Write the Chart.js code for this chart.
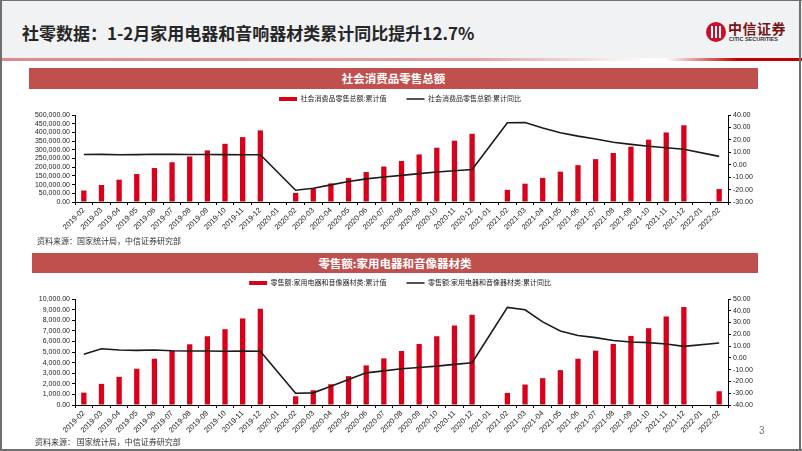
<!DOCTYPE html>
<html>
<head>
<meta charset="utf-8">
<script src="https://cdn.jsdelivr.net/npm/chart.js@4.4.1/dist/chart.umd.min.js"></script>
<style>
body { margin:0; width:802px; height:451px; position:relative; overflow:hidden; background:#fff; font-family:'Noto Sans CJK SC', sans-serif; }
.abs { position:absolute; }
#header { left:0; top:0; width:802px; height:58px; background:#f1f2f4; }
#rule { left:0; top:58px; width:802px; height:3px; background:linear-gradient(to right, #d98a8e 0%, #e2a3a6 60%, #ffffff 81%, #ffffff 83%, #c00000 92%, #c00000 100%); }
#title { left:22px; top:21px; font-size:17px; font-weight:bold; color:#262626; line-height:24px; white-space:nowrap; }
#logoMark { left:706px; top:22px; width:20px; height:20px; border-radius:50%; background:#c8102e; }
#logoMark div { position:absolute; top:4px; width:2px; height:12px; background:#fff; }
#logoCn { left:728px; top:19px; font-size:14px; font-weight:bold; color:#7a1414; line-height:18px; white-space:nowrap; letter-spacing:0.5px; }
#logoEn { left:729px; top:36px; font-family:'Liberation Sans', sans-serif; font-size:5.5px; font-weight:bold; color:#333; white-space:nowrap; }
.banner { height:21px; background:#c0504d; color:#fff; font-weight:bold; font-size:11.5px; line-height:21px; text-align:center; }
.source { font-size:8px; color:#333; white-space:nowrap; line-height:10px; }
#page { left:759px; top:425px; font-family:'Liberation Sans', sans-serif; font-size:10px; color:#777; }
.edge { background:#6f6f6f; }
canvas { position:absolute; left:0; }
</style>
</head>
<body>
<div id="header" class="abs"></div>
<div id="rule" class="abs"></div>
<div id="title" class="abs">社零数据：1-2月家用电器和音响器材类累计同比提升12.7%</div>
<div id="logoMark" class="abs"><div style="left:5px"></div><div style="left:9px"></div><div style="left:13px"></div></div>
<div id="logoCn" class="abs">中信证券</div>
<div id="logoEn" class="abs">CITIC SECURITIES</div>

<div class="abs banner" style="left:29px; top:68px; width:729px;">社会消费品零售总额</div>
<canvas id="chart1" width="800" height="147" style="top:89px"></canvas>
<div class="abs source" style="left:37px; top:236px;">资料来源：国家统计局，中信证券研究部</div>

<div class="abs banner" style="left:32px; top:253px; width:726px; height:20px; line-height:20px;">零售额:家用电器和音像器材类</div>
<canvas id="chart2" width="800" height="166" style="top:273px"></canvas>
<div class="abs source" style="left:35px; top:437px;">资料来源：&nbsp;国家统计局，中信证券研究部</div>

<div id="page" class="abs">3</div>
<div class="abs edge" style="left:0; top:0; width:2px; height:451px;"></div>
<div class="abs edge" style="left:799px; top:0; width:2px; height:451px;"></div>
<div class="abs edge" style="left:0; top:449px; width:802px; height:2px;"></div>
<div class="abs edge" style="left:0; top:0; width:802px; height:1px;"></div>

<script>
var months = ['2019-02', '2019-03', '2019-04', '2019-05', '2019-06', '2019-07', '2019-08', '2019-09', '2019-10', '2019-11', '2019-12',
    '2020-01', '2020-02', '2020-03', '2020-04', '2020-05', '2020-06', '2020-07', '2020-08', '2020-09', '2020-10', '2020-11', '2020-12',
    '2021-01', '2021-02', '2021-03', '2021-04', '2021-05', '2021-06', '2021-07', '2021-08', '2021-09', '2021-10', '2021-11', '2021-12',
    '2022-01', '2022-02'];

// 社会消费品零售总额 (亿元) 累计值 / 累计同比
var retailTotal = [66064, 97790, 128163, 160714, 195210, 228393, 261619, 296674, 334543, 372872, 411649,
    null, 52130, 78580, 106758, 138464, 172256, 203966, 235839, 273324, 311855, 352453, 391981,
    null, 69737, 105221, 138373, 174227, 211904, 246324, 281588, 318057, 358161, 399723, 440823,
    null, 74426];
var retailTotalYoy = [8.2, 8.3, 8.0, 8.1, 8.4, 8.3, 8.2, 8.2, 8.1, 8.0, 8.0,
    null, -20.5, -19.0, -16.2, -13.5, -11.4, -9.9, -8.6, -7.2, -5.9, -4.8, -3.9,
    null, 33.8, 33.9, 29.6, 25.7, 23.0, 20.7, 18.1, 16.4, 14.9, 13.7, 12.5,
    null, 6.7];

// 家用电器和音像器材类 累计值 / 累计同比
var applianceValue = [1170, 1994, 2658, 3418, 4367, 5127, 5728, 6487, 7152, 8165, 9082,
    null, 823, 1392, 1962, 2722, 3734, 4399, 5095, 5760, 6487, 7500, 8513,
    null, 1139, 1930, 2532, 3291, 4367, 5127, 5760, 6519, 7247, 8354, 9241,
    null, 1297];
var applianceYoy = [3.0, 7.8, 6.7, 6.4, 6.7, 6.1, 5.9, 5.9, 5.6, 5.9, 5.6,
    null, -30.0, -29.7, -24.1, -18.4, -12.7, -11.0, -9.2, -8.1, -7.0, -5.5, -4.1,
    null, 42.9, 40.9, 30.6, 22.9, 19.0, 17.2, 14.7, 13.5, 13.0, 11.8, 9.8,
    null, 12.7];

// axis ranges: [min, max, step]
var retailLeftAxis = [0, 500000, 50000];
var retailRightAxis = [-30, 40, 10];
var applianceLeftAxis = [0, 10000, 1000];
var applianceRightAxis = [-40, 50, 10];

var RED = '#d9001b';
var LINE = '#1a1a1a';
var NUM_FONT = "'Liberation Sans', 'Noto Sans CJK SC', sans-serif";

function fmt(v) {
    return Number(v).toLocaleString('en-US', {minimumFractionDigits: 2, maximumFractionDigits: 2});
}

// push the plot area a little further below the legend
var legendGap = {
    id: 'legendGap',
    beforeLayout: function (chart) {
        var legend = chart.legend;
        if (legend && !legend._gapPatched) {
            var fit = legend.fit;
            legend.fit = function () {
                fit.call(this);
                this.height += 2.5;
            };
            legend._gapPatched = true;
        }
    }
};

function axis(range, position, width) {
    return {
        position: position,
        min: range[0],
        max: range[1],
        ticks: {
            stepSize: range[2],
            autoSkip: false,
            callback: fmt,
            font: {size: 7, family: NUM_FONT},
            color: '#222',
            padding: 2
        },
        grid: {drawOnChartArea: false, tickLength: 3, color: '#000'},
        border: {color: '#000', width: 1},
        afterFit: function (scale) {
            scale.width = width;
        }
    };
}

function makeChart(canvasId, barLabel, lineLabel, barData, lineData, leftRange, rightRange) {
    return new Chart(document.getElementById(canvasId), {
        data: {
            labels: months,
            datasets: [
                {
                    type: 'bar',
                    label: barLabel,
                    data: barData,
                    yAxisID: 'y',
                    backgroundColor: RED,
                    barPercentage: 0.3,
                    categoryPercentage: 1,
                    order: 2
                },
                {
                    type: 'line',
                    label: lineLabel,
                    data: lineData,
                    yAxisID: 'y1',
                    borderColor: LINE,
                    backgroundColor: LINE,
                    borderWidth: 1.6,
                    pointRadius: 0,
                    tension: 0,
                    spanGaps: true,
                    order: 1
                }
            ]
        },
        options: {
            responsive: false,
            animation: false,
            devicePixelRatio: 1,
            layout: {padding: {top: 0.5, left: 0, right: 0, bottom: 0}},
            plugins: {
                tooltip: {enabled: false},
                legend: {
                    position: 'top',
                    labels: {
                        usePointStyle: true,
                        pointStyleWidth: 18,
                        boxHeight: 4,
                        padding: 6,
                        color: '#222',
                        font: {size: 7, family: NUM_FONT},
                        sort: function (a, b) {
                            return a.datasetIndex - b.datasetIndex;
                        },
                        generateLabels: function (chart) {
                            var items = Chart.defaults.plugins.legend.labels.generateLabels(chart);
                            items.forEach(function (item) {
                                if (item.datasetIndex === 0) {
                                    item.pointStyle = 'rect';
                                    item.lineWidth = 0;
                                    item.text = item.text + '\u3000\u3000';
                                } else {
                                    item.pointStyle = 'line';
                                    item.lineWidth = 1.6;
                                    item.strokeStyle = LINE;
                                }
                            });
                            return items;
                        }
                    }
                }
            },
            scales: {
                x: {
                    grid: {offset: true, drawOnChartArea: false, tickLength: 3, color: '#000'},
                    border: {color: '#000', width: 1},
                    ticks: {
                        autoSkip: false,
                        minRotation: 45,
                        maxRotation: 45,
                        padding: 1,
                        color: '#222',
                        font: {size: 7.5, family: NUM_FONT}
                    },
                    afterFit: function (scale) {
                        scale.height = 34;
                    }
                },
                y: axis(leftRange, 'left', 75),
                y1: axis(rightRange, 'right', 72)
            }
        },
        plugins: [legendGap]
    });
}

makeChart('chart1', '社会消费品零售总额:累计值', '社会消费品零售总额:累计同比',
    retailTotal, retailTotalYoy, retailLeftAxis, retailRightAxis);
makeChart('chart2', '零售额:家用电器和音像器材类:累计值', '零售额:家用电器和音像器材类:累计同比',
    applianceValue, applianceYoy, applianceLeftAxis, applianceRightAxis);
</script>
</body>
</html>
